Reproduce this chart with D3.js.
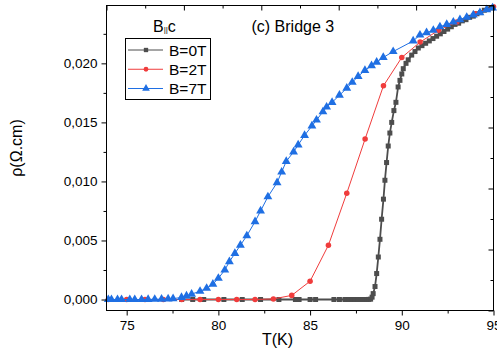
<!DOCTYPE html>
<html>
<head>
<meta charset="utf-8">
<script src="https://cdn.jsdelivr.net/npm/d3@7"></script>
<style>
  body { margin: 0; background: #fff; }
  svg { font-family: Arial, "Liberation Sans", sans-serif; }
</style>
</head>
<body>
<div id="chart"></div>
<script>
// B = 0T
const t0 = [78.0, 78.6, 79.2, 80.3, 81.3, 82.3, 83.3, 84.2, 84.4, 85.0, 85.3, 86.3, 86.6, 86.9, 87.1, 87.3, 87.45, 87.6, 87.75, 87.9, 88.0, 88.1, 88.2, 88.3,
  88.38, 88.44, 88.54, 88.63, 88.72, 88.81, 88.9, 89.0, 89.08, 89.17, 89.26, 89.35, 89.45, 89.57, 89.68, 89.8, 89.9, 90.0, 90.08, 90.23, 90.35, 90.54,
  90.72, 90.9, 91.1, 91.3, 91.5, 91.7, 91.9, 92.1, 92.3, 92.5, 92.7, 92.9, 93.1, 93.3, 93.5, 93.7, 93.9, 94.1, 94.3, 94.5, 94.7, 94.9];
const rho0 = [0, 0, 0, 0, 0, 0, 0, 0, 0, 0, 0, 0, 0, 0, 0, 0, 0, 0, 0, 0, 0, 0, 0.00001, 0.00003,
  0.0002, 0.0005, 0.0011, 0.0022, 0.0036, 0.0051, 0.0068, 0.0085, 0.0101, 0.0116, 0.0130, 0.0141, 0.0150, 0.0160, 0.0167, 0.0180, 0.01856, 0.0191, 0.01955, 0.0200, 0.0203, 0.0207,
  0.0210, 0.0213, 0.0215, 0.0217, 0.0219, 0.0221, 0.0223, 0.0225, 0.0227, 0.0229, 0.0231, 0.0233, 0.0234, 0.0236, 0.0237, 0.0239, 0.0240, 0.0242, 0.0243, 0.0245, 0.0246, 0.0247];

// B = 2T
const t2 = [74, 75, 76, 77, 78, 79, 80, 81, 82, 83, 84, 85, 86, 87, 88, 89, 90, 91, 92, 93, 94, 95];
const rho2 = [0, 0, 0, 0, 0, 0, 0, 0, 0, 0.00005, 0.00035, 0.00155, 0.0046, 0.0090, 0.0136, 0.0181, 0.0205, 0.0218, 0.0228, 0.0235, 0.0242, 0.0248];

// B = 7T
const t7 = [74.0, 74.17, 74.5, 74.72, 75.17, 75.44, 75.81, 76.17, 76.53, 76.9, 77.26, 77.53, 77.99, 78.26, 78.54, 79.0, 79.36, 79.7, 80.0, 80.35,
  80.6, 80.9, 81.2, 81.55, 82.0, 82.3, 82.7, 83.2, 83.45, 83.7, 84.1, 84.35, 84.7, 85.1, 85.35, 85.7, 85.9, 86.2, 86.6, 87.0,
  87.3, 87.62, 87.99, 88.35, 88.63, 88.99, 89.53, 90.62, 90.99, 91.35, 91.72, 92.08, 92.45, 92.81, 93.17, 93.54, 93.9, 94.26, 94.63, 94.95];
const rho7 = [0, 0, 0, 0, 0, 0, 0, 0.00001, 0.00002, 0.00003, 0.00005, 0.00007, 0.00018, 0.0003, 0.00046, 0.0007, 0.00095, 0.0013, 0.0018, 0.0025,
  0.0032, 0.0039, 0.0046, 0.0054, 0.0066, 0.0075, 0.0087, 0.0099, 0.0108, 0.0117, 0.0125, 0.0131, 0.0139, 0.0147, 0.0152, 0.0159, 0.0163, 0.0167, 0.0173, 0.0179,
  0.0184, 0.0189, 0.0194, 0.0198, 0.0201, 0.0205, 0.0210, 0.0219, 0.0224, 0.0226, 0.0228, 0.0231, 0.0233, 0.0235, 0.0237, 0.0239, 0.0241, 0.0243, 0.02455, 0.0247];

const xTicks = [75, 80, 85, 90, 95];
const yTicks = [0, 0.005, 0.010, 0.015, 0.020];

const series = [
  { name: "B=0T", t: t0, rho: rho0, color: "#4d4d4d", symbol: d3.symbolSquare, size: 25, width: 1.8 },
  { name: "B=2T", t: t2, rho: rho2, color: "#f03c3c", symbol: d3.symbolCircle, size: 24, width: 1 },
  { name: "B=7T", t: t7, rho: rho7, color: "#1f6fe3", symbol: d3.symbolTriangle, size: 34, width: 1 }
];

const W = 497, H = 353;
const svg = d3.select("#chart").append("svg").attr("width", W).attr("height", H);

const x = d3.scaleLinear().domain([73.9, 95]).range([106.5, 493.5]);
const y = d3.scaleLinear().domain([-0.00093, 0.0249]).range([310.5, 5.5]);

// data
const plot = svg.append("g");
const line = d3.line().x(d => x(d[0])).y(d => y(d[1]));
series.forEach(s => {
  const pts = s.t.map((t, i) => [t, s.rho[i]]);
  plot.append("path").datum(pts)
    .attr("d", line).attr("fill", "none")
    .attr("stroke", s.color).attr("stroke-width", s.width);
  plot.selectAll(null).data(pts).enter().append("path")
    .attr("d", d3.symbol().type(s.symbol).size(s.size))
    .attr("transform", d => "translate(" + x(d[0]) + "," + y(d[1]) + ")")
    .attr("fill", s.color);
});

// frame
svg.append("rect")
  .attr("x", 106.5).attr("y", 5.5).attr("width", 387).attr("height", 305)
  .attr("fill", "none").attr("stroke", "#000").attr("stroke-width", 1);

// bottom axis
const fmtY = v => d3.format(".3f")(v).replace(".", ",");
svg.append("g").attr("transform", "translate(0,310.5)")
  .call(d3.axisBottom(x).tickValues(xTicks).tickSize(5).tickSizeOuter(0).tickPadding(5))
  .call(g => g.select(".domain").remove())
  .call(g => g.selectAll("text").attr("font-size", 13.5).attr("fill", "#000").attr("font-family", null));
svg.append("g").attr("transform", "translate(0,310.5)")
  .call(d3.axisBottom(x).tickValues([77.5, 82.5, 87.5, 92.5]).tickSize(3).tickFormat(""))
  .call(g => g.select(".domain").remove());

// left axis
svg.append("g").attr("transform", "translate(106.5,0)")
  .call(d3.axisLeft(y).tickValues(yTicks).tickSize(5).tickFormat(fmtY).tickPadding(4))
  .call(g => g.select(".domain").remove())
  .call(g => g.selectAll("text").attr("font-size", 13.5).attr("fill", "#000").attr("font-family", null));
svg.append("g").attr("transform", "translate(106.5,0)")
  .call(d3.axisLeft(y).tickValues([0.0025, 0.0075, 0.0125, 0.0175, 0.0225]).tickSize(3).tickFormat(""))
  .call(g => g.select(".domain").remove());

// top and right axes: inward ticks
const xTop = d3.scaleLinear().domain([0, 10]).range([106.5, 493.5]);
const yRight = d3.scaleLinear().domain([0, 10]).range([310.5, 5.5]);
const even = d3.range(0, 11, 2), odd = d3.range(1, 10, 2);
[[even, 5], [odd, 3]].forEach(([vals, len]) => {
  svg.append("g").attr("transform", "translate(0,5.5)")
    .call(d3.axisTop(xTop).tickValues(vals).tickSize(-len).tickFormat(""))
    .call(g => g.select(".domain").remove());
  svg.append("g").attr("transform", "translate(493.5,0)")
    .call(d3.axisRight(yRight).tickValues(vals).tickSize(-len).tickFormat(""))
    .call(g => g.select(".domain").remove());
});

// axis titles
svg.append("text").attr("x", 277.5).attr("y", 345).attr("text-anchor", "middle")
  .attr("font-size", 16).text("T(K)");
svg.append("text").attr("transform", "translate(22,148) rotate(-90)").attr("text-anchor", "middle")
  .attr("font-size", 16).text("ρ(Ω.cm)");

// annotations
svg.append("text").attr("x", 251.5).attr("y", 32).attr("font-size", 16).text("(c) Bridge 3");
const bc = svg.append("text").attr("x", 153).attr("y", 32).attr("font-size", 16);
bc.append("tspan").text("B");
bc.append("tspan").attr("font-size", 8).text("||");
bc.append("tspan").text("c");

// legend
const leg = svg.append("g");
leg.append("rect").attr("x", 125.5).attr("y", 38.5).attr("width", 85).attr("height", 61)
  .attr("fill", "#fff").attr("stroke", "#000").attr("stroke-width", 1);
const ly = d3.scalePoint().domain(series.map(s => s.name)).range([50, 88.5]);
series.forEach(s => {
  const cy = ly(s.name);
  leg.append("line").attr("x1", 128).attr("x2", 163).attr("y1", cy).attr("y2", cy)
    .attr("stroke", s.color).attr("stroke-width", 1);
  leg.append("path").attr("d", d3.symbol().type(s.symbol).size(s.size * 0.75))
    .attr("transform", "translate(146," + cy + ")").attr("fill", s.color);
  leg.append("text").attr("x", 169).attr("y", cy + 5.5).attr("font-size", 15.5).text(s.name);
});
</script>
</body>
</html>
